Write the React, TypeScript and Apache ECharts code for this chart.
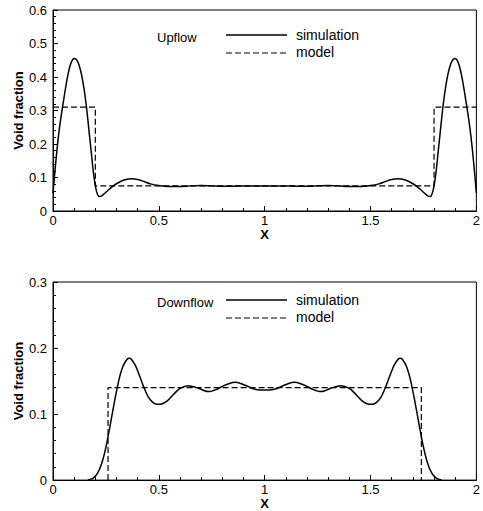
import React, { useEffect, useRef } from "react";
import * as echarts from "echarts";

// Upflow (top panel)
const upX = [0, 0.01, 0.02, 0.03, 0.04, 0.05, 0.06, 0.07, 0.08, 0.09, 0.1, 0.11, 0.12, 0.13, 0.14, 0.15, 0.16, 0.17, 0.18, 0.19, 0.2, 0.21, 0.22, 0.23, 0.25, 0.28, 0.31, 0.34, 0.37, 0.4, 0.43, 0.46, 0.5, 0.55, 0.6, 0.65, 0.7, 0.75, 0.8, 0.85, 0.9, 0.95, 1.0];
const upSim = [0.053, 0.125, 0.19, 0.245, 0.29, 0.33, 0.37, 0.405, 0.432, 0.449, 0.455, 0.452, 0.441, 0.42, 0.39, 0.35, 0.3, 0.24, 0.18, 0.12, 0.075, 0.05, 0.043, 0.045, 0.056, 0.073, 0.085, 0.093, 0.096, 0.094, 0.088, 0.081, 0.076, 0.073, 0.073, 0.075, 0.076, 0.075, 0.074, 0.074, 0.075, 0.075, 0.075];
const upModelX = [0, 0.2, 0.2, 1.8, 1.8, 2];
const upModelY = [0.31, 0.31, 0.075, 0.075, 0.31, 0.31];

// Downflow (bottom panel)
const downX = [0.165, 0.19, 0.21, 0.23, 0.25, 0.27, 0.29, 0.31, 0.33, 0.35, 0.36, 0.37, 0.39, 0.41, 0.43, 0.45, 0.47, 0.49, 0.51, 0.54, 0.57, 0.6, 0.64, 0.68, 0.71, 0.735, 0.77, 0.8, 0.83, 0.86, 0.89, 0.92, 0.95, 0.98, 1.0];
const downSim = [0, 0.003, 0.01, 0.025, 0.05, 0.083, 0.118, 0.15, 0.172, 0.183, 0.1845, 0.183, 0.173, 0.157, 0.14, 0.126, 0.118, 0.1148, 0.115, 0.12, 0.13, 0.139, 0.143, 0.14, 0.136, 0.134, 0.137, 0.142, 0.146, 0.148, 0.146, 0.142, 0.138, 0.1365, 0.1365];
const downModelX = [0.26, 0.26, 1.74, 1.74];
const downModelY = [0, 0.14, 0.14, 0];

const xTicks = ["0", "0.5", "1", "1.5", "2"];

function mirror(xs: number[], ys: number[]): number[][] {
  const left = xs.map((x, i) => [x, ys[i]]);
  const right = xs
    .slice(0, xs.length - 1)
    .map((x, i) => [2 - x, ys[i]])
    .reverse();
  return left.concat(right);
}

const FONT = "Liberation Sans, Arial, Helvetica, sans-serif";

function xAxisFor(gridIndex: number, gap: number) {
  return {
    gridIndex,
    type: "value",
    min: 0,
    max: 2,
    interval: 0.5,
    name: "X",
    nameLocation: "middle",
    nameGap: gap,
    nameTextStyle: { fontFamily: FONT, fontWeight: "bold", fontSize: 13, color: "#000" },
    axisLine: { show: true, onZero: false, lineStyle: { color: "#000", width: 1 } },
    axisTick: { show: true, inside: true, length: 5, lineStyle: { color: "#000" } },
    minorTick: { show: true, splitNumber: 5, length: 3, lineStyle: { color: "#000" } },
    splitLine: { show: false },
    minorSplitLine: { show: false },
    axisLabel: {
      margin: 3,
      fontFamily: FONT,
      fontSize: 13,
      color: "#000",
      formatter: (v: number) => xTicks[Math.round(v / 0.5)] ?? String(v),
    },
  };
}

function yAxisFor(gridIndex: number, max: number) {
  return {
    gridIndex,
    type: "value",
    min: 0,
    max,
    interval: 0.1,
    name: "Void fraction",
    nameLocation: "middle",
    nameGap: 28,
    nameMoveOverlap: false,
    nameRotate: 90,
    nameTextStyle: { fontFamily: FONT, fontWeight: "bold", fontSize: 13, color: "#000" },
    axisLine: { show: true, onZero: false, lineStyle: { color: "#000", width: 1 } },
    axisTick: { show: true, inside: true, length: 5, lineStyle: { color: "#000" } },
    minorTick: { show: true, splitNumber: 5, length: 3, lineStyle: { color: "#000" } },
    splitLine: { show: false },
    minorSplitLine: { show: false },
    axisLabel: {
      margin: 6,
      fontFamily: FONT,
      fontSize: 13,
      color: "#000",
      formatter: (v: number) => (v === 0 ? "0" : v.toFixed(1)),
    },
  };
}

function legendGraphics(label: string, top: number) {
  return [
    { type: "text", left: 157, top: top - 5, style: { text: label, font: `13px ${FONT}`, fill: "#000" } },
    { type: "line", shape: { x1: 226, y1: top - 1, x2: 287, y2: top - 1 }, style: { stroke: "#000", lineWidth: 1.5 } },
    { type: "text", left: 296, top: top - 8, style: { text: "simulation", font: `14px ${FONT}`, fill: "#000" } },
    { type: "line", shape: { x1: 226, y1: top + 17, x2: 287, y2: top + 17 }, style: { stroke: "#000", lineWidth: 1.2, lineDash: [6, 3] } },
    { type: "text", left: 296, top: top + 9, style: { text: "model", font: `14px ${FONT}`, fill: "#000" } },
  ];
}

export default function App() {
  const ref = useRef<HTMLDivElement>(null);
  useEffect(() => {
    if (!ref.current) return;
    const chart = echarts.init(ref.current, undefined, { renderer: "svg" });
    const upModel = upModelX.map((x, i) => [x, upModelY[i]]);
    const downModel = downModelX.map((x, i) => [x, downModelY[i]]);
    chart.setOption({
      animation: false,
      backgroundColor: "#fff",
      grid: [
        { left: 53, top: 10, width: 427, height: 201, show: true, borderColor: "#000", borderWidth: 1, backgroundColor: "transparent" },
        { left: 53, top: 282, width: 427, height: 200, show: true, borderColor: "#000", borderWidth: 1, backgroundColor: "transparent" },
      ],
      xAxis: [xAxisFor(0, 10), xAxisFor(1, 10)],
      yAxis: [yAxisFor(0, 0.6), yAxisFor(1, 0.3)],
      series: [
        {
          name: "simulation",
          type: "line",
          xAxisIndex: 0,
          yAxisIndex: 0,
          data: mirror(upX, upSim),
          smooth: 0.3,
          showSymbol: false,
          symbol: "none",
          lineStyle: { color: "#000", width: 1.5 },
        },
        {
          name: "model",
          type: "line",
          xAxisIndex: 0,
          yAxisIndex: 0,
          data: upModel,
          showSymbol: false,
          symbol: "none",
          lineStyle: { color: "#000", width: 1.2, type: [6, 3] },
        },
        {
          name: "simulation",
          type: "line",
          xAxisIndex: 1,
          yAxisIndex: 1,
          data: mirror(downX, downSim),
          smooth: 0.3,
          showSymbol: false,
          symbol: "none",
          lineStyle: { color: "#000", width: 1.5 },
        },
        {
          name: "model",
          type: "line",
          xAxisIndex: 1,
          yAxisIndex: 1,
          data: downModel,
          showSymbol: false,
          symbol: "none",
          lineStyle: { color: "#000", width: 1.2, type: [6, 3] },
        },
      ],
      graphic: [...legendGraphics("Upflow", 36), ...legendGraphics("Downflow", 301)],
    });
    return () => chart.dispose();
  }, []);
  return (
    <div
      ref={ref}
      style={{ position: "fixed", left: 0, top: 0, width: 483, height: 511 }}
    />
  );
}
